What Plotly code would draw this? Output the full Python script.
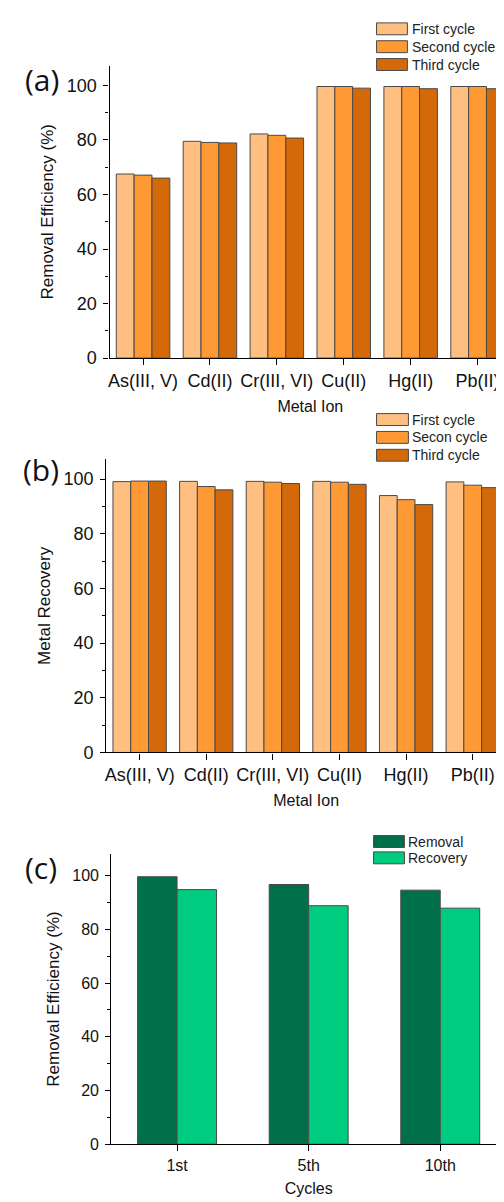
import plotly.graph_objects as go

W, H = 504, 1202

# ---------------- data ----------------
metals = ["As(III, V)", "Cd(II)", "Cr(III, VI)", "Cu(II)", "Hg(II)", "Pb(II)"]
removal_first = [67.5, 79.5, 82.2, 99.6, 99.6, 99.6]
removal_second = [67.1, 79.1, 81.7, 99.6, 99.6, 99.6]
removal_third = [66.0, 78.9, 80.7, 99.0, 98.8, 98.8]
recovery_first = [99.1, 99.2, 99.2, 99.2, 94.0, 99.0]
recovery_second = [99.3, 97.3, 98.9, 98.9, 92.5, 97.8]
recovery_third = [99.3, 96.1, 98.4, 98.1, 90.7, 96.9]
cycles = ["1st", "5th", "10th"]
cycle_removal = [99.6, 96.7, 94.6]
cycle_recovery = [94.8, 88.8, 87.9]
labels_a = ["First cycle", "Second cycle", "Third cycle"]
labels_b = ["First cycle", "Secon cycle", "Third cycle"]
labels_c = ["Removal", "Recovery"]

orange = ["#FFBF80", "#FF9933", "#D4690A"]
green = ["#00704A", "#00CC80"]
OUT = "#4a4a4a"
FONT = "Liberation Sans"


def px(x):
    return x / W


def py(y):
    return 1 - y / H


fig = go.Figure()

for vals, name, col in zip([removal_first, removal_second, removal_third], labels_a, orange):
    fig.add_trace(go.Bar(x=metals, y=vals, name=name, marker_color=col,
                         marker_line=dict(color=OUT, width=1), xaxis="x", yaxis="y",
                         showlegend=False))
for vals, name, col in zip([recovery_first, recovery_second, recovery_third], labels_b, orange):
    fig.add_trace(go.Bar(x=metals, y=vals, name=name, marker_color=col,
                         marker_line=dict(color=OUT, width=1), xaxis="x2", yaxis="y2",
                         showlegend=False))
for vals, name, col, off in zip([cycle_removal, cycle_recovery], labels_c, green, [-0.3, 0.0]):
    fig.add_trace(go.Bar(x=cycles, y=vals, name=name, marker_color=col,
                         marker_line=dict(color=OUT, width=1), xaxis="x3", yaxis="y3",
                         width=0.3, offset=off, showlegend=False))


def xax(domain, anchor, title, ncat, fs):
    return dict(domain=domain, anchor=anchor, type="category", range=[-0.5, ncat - 0.5],
                showline=True, linecolor="black", linewidth=1.3, ticks="outside",
                ticklen=6, tickcolor="black", tickwidth=1.3, showgrid=False,
                tickfont=dict(size=fs, family=FONT, color="#111"),
                title=dict(text=title, font=dict(size=16, family=FONT, color="#111"), standoff=10))


def yax(domain, anchor, title, top, fs):
    return dict(domain=domain, anchor=anchor, range=[0, top], dtick=20, tick0=0,
                showline=True, linecolor="black", linewidth=1.3, ticks="outside",
                ticklen=5, tickcolor="black", tickwidth=1.3, showgrid=False, zeroline=False,
                ticklabelstandoff=3,
                minor=dict(ticks="outside", ticklen=3, dtick=10, tickcolor="black", showgrid=False),
                tickfont=dict(size=fs, family=FONT, color="#111"),
                title=dict(text=title, font=dict(size=17, family=FONT, color="#111"), standoff=8))


fig.update_layout(
    width=W, height=H, margin=dict(l=0, r=0, t=0, b=0),
    paper_bgcolor="white", plot_bgcolor="white",
    barmode="group", bargap=0.2, bargroupgap=0,
    xaxis=xax([px(100), px(503)], "y", "Metal Ion", 6, 18),
    yaxis=yax([py(353), py(58)], "x", "Removal Efficiency (%)", 107.3, 18),
    xaxis2=xax([px(96.7), px(498)], "y2", "Metal Ion", 6, 18),
    yaxis2=yax([py(750.7), py(455)], "x2", "Metal Recovery", 107.3, 18),
    xaxis3=xax([px(101.7), px(498)], "y3", "Cycles", 3, 16),
    yaxis3=yax([py(1145.7), py(853)], "x3", "Removal Efficiency (%)", 108.1, 16),
)

shapes = []
annotations = []


def legend(labels, colors, x0, x1, ycenters, tx):
    for lab, col, yc in zip(labels, colors, ycenters):
        shapes.append(dict(type="rect", xref="paper", yref="paper",
                           x0=px(x0), x1=px(x1), y0=py(yc + 6), y1=py(yc - 6),
                           fillcolor=col, line=dict(color=OUT, width=1)))
        annotations.append(dict(text=lab, xref="paper", yref="paper", x=px(tx), y=py(yc),
                                xanchor="left", yanchor="middle", showarrow=False,
                                font=dict(size=14, family=FONT, color="#222")))


legend(labels_a, orange, 368, 399, [21, 39, 57], 402)
legend(labels_b, orange, 368, 400, [415, 433, 451], 402)
legend(labels_c, green, 365, 396, [840.5, 857], 398)

for lab, xc, yc in [("(a)", 32, 72), ("(b)", 31, 465), ("(c)", 31, 867)]:
    annotations.append(dict(text=lab, xref="paper", yref="paper", x=px(xc), y=py(yc),
                            xanchor="center", yanchor="middle", showarrow=False,
                            font=dict(size=30, family="Open Sans", color="#111")))

fig.update_layout(shapes=shapes, annotations=annotations)

fig.write_html("out.html")
